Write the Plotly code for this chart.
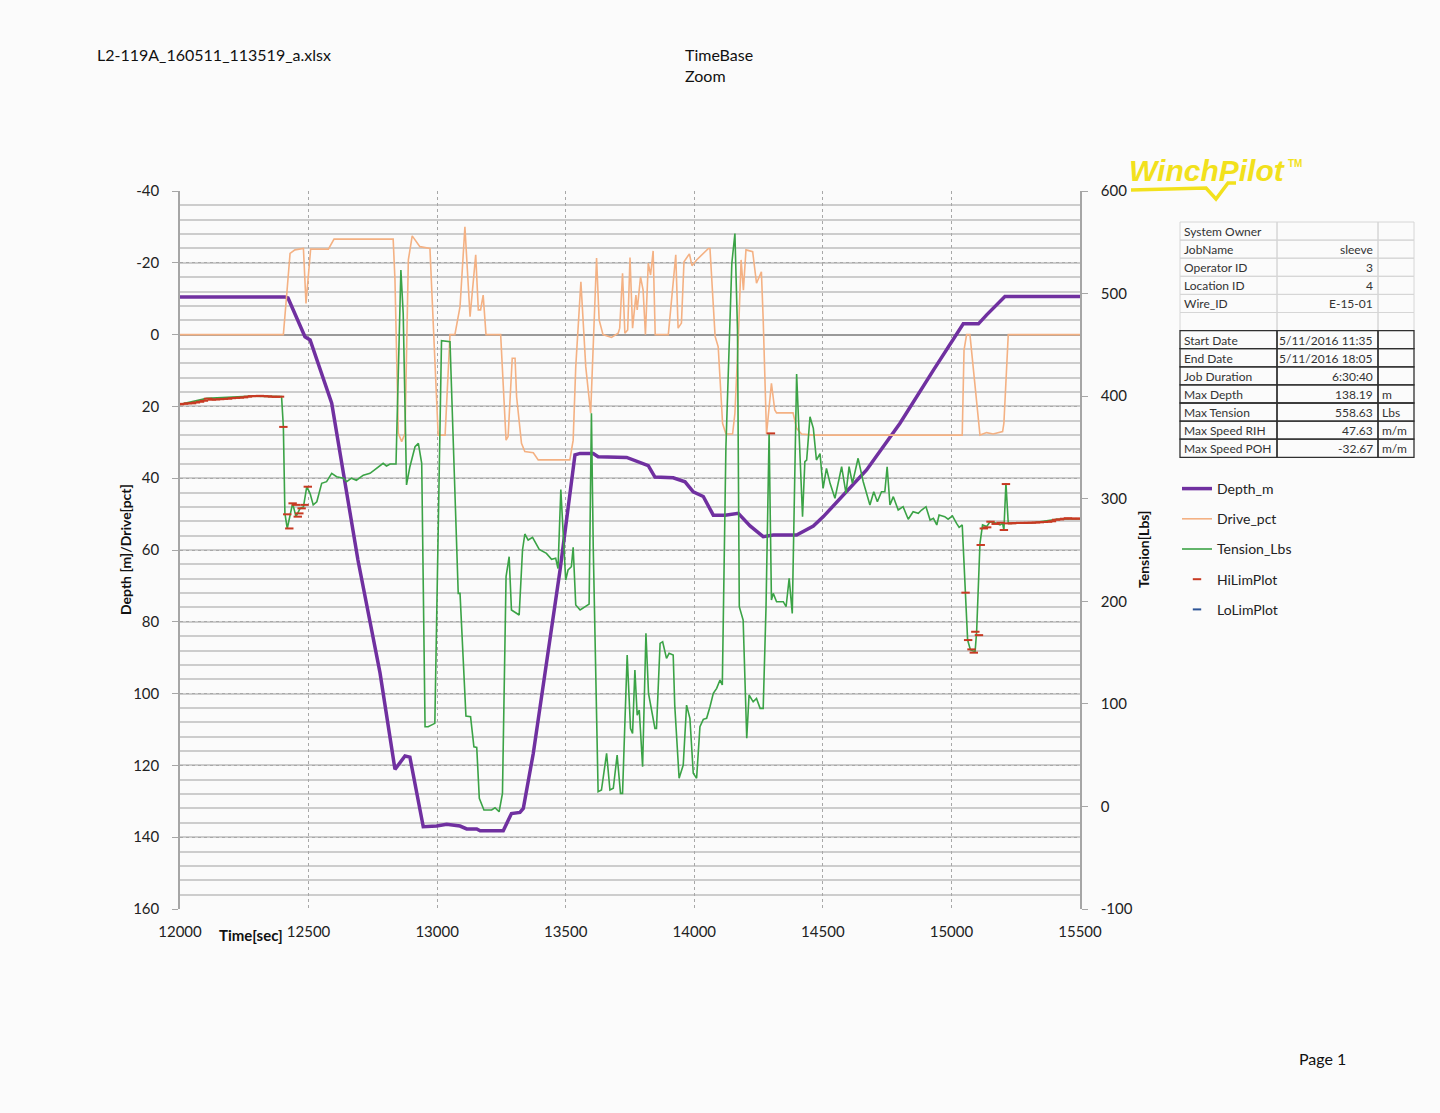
import plotly.graph_objects as go

# ---- data ---------------------------------------------------------------
depth_t = [12000, 12408, 12420, 12486, 12506, 12590, 12692, 12778, 12836, 12856,
           12875, 12894, 12946, 12998, 13037, 13089, 13115, 13154, 13167, 13257,
           13289, 13322, 13335, 13374, 13426, 13478, 13536, 13556, 13607, 13626,
           13737, 13776, 13821, 13847, 13918, 13964, 13996, 14035, 14074, 14120,
           14171, 14217, 14268, 14307, 14398, 14463, 14502, 14670, 14800, 14930,
           15046, 15105, 15137, 15208, 15500]
depth_m = [-10.5, -10.5, -10.2, 0.6, 1.5, 19.1, 62.8, 94.3, 121.1, 119,
           117.4, 117.7, 137.1, 136.9, 136.4, 136.9, 137.7, 137.7, 138.2, 138.2,
           133.4, 133.1, 132, 116.6, 91.6, 65.6, 33.5, 33.1, 33.1, 34,
           34.2, 35.2, 36.5, 39.7, 39.9, 41, 43.8, 45.1, 50.3, 50.3,
           49.8, 53.3, 56.3, 55.8, 55.8, 53.3, 50.7, 37.7, 24.7, 9.9,
           -3, -3, -5.5, -10.6, -10.6]

drive_t = [12000, 12402, 12416, 12428, 12447, 12480, 12490, 12508, 12577, 12599,
           12829, 12836, 12849, 12862, 12875, 12888, 12903, 12933, 12972, 12998,
           13004, 13031, 13050, 13069, 13089, 13108, 13128, 13150, 13160, 13169,
           13179, 13190, 13247, 13268, 13276, 13292, 13303, 13309, 13328, 13341,
           13374, 13393, 13516, 13529, 13539, 13559, 13578, 13597, 13607, 13620,
           13630, 13645, 13678, 13704, 13710, 13721, 13730, 13741, 13750, 13760,
           13773, 13778, 13791, 13801, 13810, 13821, 13830, 13840, 13848, 13899,
           13928, 13937, 13950, 13960, 13981, 13991, 14009, 14022, 14055, 14061,
           14081, 14093, 14110, 14123, 14149, 14158, 14171, 14182, 14191, 14201,
           14227, 14242, 14261, 14268, 14281, 14300, 14313, 14320, 14384, 14398,
           14417, 14462, 15042, 15049, 15059, 15072, 15111, 15137, 15162, 15199,
           15204, 15221, 15500]
drive_pct = [0, 0, -12, -22.6, -23.6, -24, -8.7, -23.8, -23.8, -26.6,
             -26.6, -15.2, 27.5, 29.8, 27.5, -20.8, -27.5, -24.5, -24, 21.9,
             28, 28, 0, 0, -7.8, -30, -5, -22.2, -6.9, -6.9,
             -11, 0, 0, 29.4, 28.4, 6.6, 6.6, 17.3, 30.3, 32.6,
             32.9, 34.9, 34.9, 29.4, 9, -14.7, 9, 21.9, 1.4, -21.3,
             -4.1, 0, 0.8, -0.4, -1.8, -17.1, -0.4, -1.3, -21.5, -1.8,
             -11, -6.9, -16.1, -12.4, 0, -19.9, -16.6, -23.3, 0, 0,
             -22.2, -1.8, -3.2, -20.3, -22.5, -19.2, -20.8, -21.7, -24, -24,
             0.5, 3.4, 24.7, 27.7, 27.7, 21.9, 1.5, -20.8, -12.4, -23.6,
             -23.1, -14.3, -17.5, -4.1, 27.7, 13.6, 21, 21.8, 21.8, 26.1,
             27.7, 28, 28, 4.3, 0, 0, 28, 27.3, 27.7, 27,
             24.7, 0, 0]

tension_t = [12000, 12104, 12285, 12395, 12402, 12408, 12417, 12428, 12438, 12451,
             12467, 12480, 12493, 12506, 12518, 12532, 12551, 12570, 12590, 12609,
             12635, 12648, 12667, 12686, 12713, 12739, 12765, 12790, 12803, 12817,
             12840, 12849, 12859, 12868, 12881, 12894, 12914, 12927, 12940, 12953,
             12965, 12991, 13017, 13050, 13082, 13089, 13112, 13130, 13143, 13154,
             13164, 13182, 13212, 13225, 13241, 13254, 13268, 13280, 13289, 13319,
             13332, 13341, 13354, 13371, 13397, 13425, 13445, 13461, 13470, 13481,
             13490, 13500, 13509, 13522, 13529, 13539, 13556, 13591, 13600, 13607,
             13626, 13639, 13659, 13672, 13685, 13700, 13713, 13721, 13739, 13752,
             13760, 13769, 13778, 13786, 13799, 13812, 13822, 13847, 13853, 13867,
             13877, 13892, 13902, 13918, 13924, 13941, 13957, 13970, 13983, 13996,
             14009, 14022, 14035, 14048, 14061, 14074, 14087, 14100, 14109, 14123,
             14146, 14158, 14168, 14175, 14190, 14204, 14213, 14229, 14242, 14256,
             14268, 14279, 14291, 14300, 14307, 14320, 14346, 14357, 14369, 14381,
             14398, 14411, 14421, 14430, 14437, 14450, 14463, 14475, 14489, 14501,
             14514, 14528, 14547, 14573, 14590, 14602, 14615, 14637, 14657, 14683,
             14698, 14712, 14728, 14741, 14750, 14761, 14774, 14793, 14812, 14832,
             14851, 14871, 14884, 14901, 14917, 14930, 14943, 14952, 14974, 14987,
             15004, 15020, 15030, 15042, 15055, 15063, 15074, 15092, 15098, 15111,
             15121, 15137, 15150, 15169, 15189, 15199, 15204, 15212, 15221, 15318,
             15409, 15500]
tension_lbs = [392, 397.8, 400, 399.5, 370, 285.7, 271, 285.7, 295.5, 282.5,
               290.6, 292, 311.7, 305, 294, 297, 315, 316.6, 324.8, 321.5,
               320, 316.6, 320, 318, 323, 324.8, 329.6, 334.5, 331.9, 333.8,
               333.8, 428.7, 523, 480.7, 313.4, 331.2, 350.7, 354, 334.5, 77.7,
               77.7, 81, 454, 453, 207.7, 207.7, 88.1, 87.5, 58.2, 57.6,
               7.9, -3.5, -3.5, -1.3, -5.2, 12.7, 224, 243.5, 191.5, 186.6,
               250, 265.6, 259.7, 262.3, 250.6, 246.7, 240.9, 241.9, 232, 309,
               272.7, 220.7, 230.5, 233.7, 252.6, 196.4, 191.5, 197.3, 383.3, 253.3,
               14.3, 16, 51.7, 16, 17.7, 50, 12.7, 12.7, 147.6, 76,
               71.2, 133, 89, 94, 38.7, 168.8, 110.3, 76, 76, 159,
               160.6, 144.4, 149.3, 147.6, 98.8, 27.4, 40.3, 98.8, 85.9, 32.3,
               27.4, 77.7, 84.9, 85.9, 97.2, 110.3, 115.1, 123.2, 118.4, 350.7,
               529.5, 558.6, 464.5, 194.7, 181.7, 66.4, 108.6, 102, 105.3, 95.6,
               95.6, 194.7, 363.7, 201.2, 207.7, 199.6, 199.6, 194.7, 222.4, 188.2,
               421.6, 339.4, 282.5, 336.1, 337.7, 379.9, 368.6, 337.7, 344, 310,
               329.6, 315, 300.4, 331.2, 305.3, 331.2, 315, 339.4, 316.6, 293.9,
               306.8, 297, 306.8, 306.8, 331.2, 293.9, 302, 289, 292.2, 280,
               287.3, 285.7, 289, 292.2, 279.2, 280.9, 274.4, 284.1, 282.5, 280,
               283.3, 276, 272.1, 274.4, 209.3, 162.2, 152.5, 150.8, 170.3, 256.5,
               274.4, 272.8, 277.6, 276.6, 274.4, 276, 269.5, 315, 276, 276.6,
               280, 280.5]

hilim_t = [12000, 12016, 12031, 12047, 12062, 12078, 12093, 12109, 12124, 12140,
           12156, 12171, 12187, 12202, 12218, 12233, 12249, 12264, 12280, 12296,
           12311, 12327, 12342, 12358, 12373, 12389,
           12402, 12417, 12425, 12438, 12451, 12458, 12464, 12473, 12484, 12497,
           14298,
           15055, 15065, 15078, 15087, 15093, 15107, 15114, 15126, 15139, 15152,
           15172, 15191, 15204, 15212,
           15220, 15236, 15251, 15267, 15282, 15298, 15313, 15329, 15344, 15360,
           15376, 15391, 15407, 15422, 15438, 15453, 15469, 15484, 15500]
hilim_lbs = [392, 392.5, 393, 393, 393.8, 394.5, 395.5, 397.5, 396.5, 396.8,
             397, 397.3, 397.5, 398, 398.3, 398.5, 398.8, 399.5, 400, 400,
             400.3, 400, 399.8, 399.5, 399.3, 399.5,
             370, 284.8, 271, 295.5, 294, 282.5, 285.7, 290.6, 294, 311.7,
             363.7,
             208.4, 162.2, 153.1, 149.9, 170.3, 167, 254.9, 271, 272.1, 277.6,
             275.4, 276.6, 269.5, 314.3,
             276, 276, 276.3, 276.5, 276.4, 276.6, 276.6, 276.8, 277, 277.3,
             277.5, 278, 279.5, 279.8, 280.5, 281, 280.5, 280.7, 280.5]

x_ticks = [12000, 12500, 13000, 13500, 14000, 14500, 15000, 15500]
y_ticks = [-40, -20, 0, 20, 40, 60, 80, 100, 120, 140, 160]
y2_ticks = [-100, 0, 100, 200, 300, 400, 500, 600]

info_labels = ["System Owner", "JobName", "Operator ID", "Location ID", "Wire_ID", "",
               "Start Date", "End Date", "Job Duration", "Max Depth", "Max Tension",
               "Max Speed RIH", "Max Speed POH"]
info_values = ["", "sleeve", "3", "4", "E-15-01", "",
               "5/11/2016 11:35", "5/11/2016 18:05", "6:30:40", "138.19", "558.63",
               "47.63", "-32.67"]
info_units = ["", "", "", "", "", "", "", "", "", "m", "Lbs", "m/m", "m/m"]

FONT = "Lato"
BG = "#fbfbfb"
OFF = 8                      # page margin of the html body
W, H = 1440 - 2 * OFF, 1113 - 2 * OFF
L, R, T, B = 180, 1080, 191, 909   # plot area in reference pixels


def px(x):
    return (x - L) / (R - L)


def py(y):
    return (B - y) / (B - T)


def hy(v):
    return str(v).replace("\u2212", "-")


fig = go.Figure()
fig.add_trace(go.Scatter(x=depth_t, y=depth_m, name="Depth_m", mode="lines",
                         line=dict(color="#7030A0", width=3.5), legendgroup="a"))
fig.add_trace(go.Scatter(x=drive_t, y=drive_pct, name="Drive_pct", mode="lines",
                         line=dict(color="#F4B183", width=1.6), legendgroup="b"))
fig.add_trace(go.Scatter(x=tension_t, y=tension_lbs, name="Tension_Lbs", mode="lines",
                         line=dict(color="#3BA346", width=1.6), yaxis="y2",
                         legendgroup="c"))
fig.add_trace(go.Scatter(x=hilim_t, y=hilim_lbs, name="HiLimPlot", mode="markers",
                         marker=dict(symbol="line-ew", size=6, color="#C83A23",
                                     line=dict(color="#C83A23", width=2)),
                         yaxis="y2", legendgroup="d"))
fig.add_trace(go.Scatter(x=[None], y=[None], name="LoLimPlot", mode="markers",
                         marker=dict(symbol="line-ew", size=6, color="#2E5597",
                                     line=dict(color="#2E5597", width=2)),
                         yaxis="y2", legendgroup="e"))

# ---- table at the right ---------------------------------------------------
shapes = []
annos = []
cols = [1180, 1277, 1378, 1414]
row_h = 18.1
top = 222
for i, (lab, val, unit) in enumerate(zip(info_labels, info_values, info_units)):
    y0 = top + i * row_h
    y1 = y0 + row_h
    dark = i >= 6
    lc = "#303030" if dark else "#d6d6d6"
    for c0, c1 in zip(cols[:-1], cols[1:]):
        shapes.append(dict(type="rect", xref="paper", yref="paper",
                           x0=px(c0), x1=px(c1), y0=py(y1), y1=py(y0),
                           line=dict(color=lc, width=1.3 if dark else 1)))
    yc = py(y0 + row_h / 2 + 0.5)
    annos.append(dict(x=px(1182), y=yc, text=lab, xanchor="left",
                      font=dict(size=12, color="#333")))
    annos.append(dict(x=px(1375), y=yc, text=val, xanchor="right",
                      font=dict(size=12, color="#333")))
    annos.append(dict(x=px(1380), y=yc, text=unit, xanchor="left",
                      font=dict(size=12, color="#333")))

# logo
LOGO = "#F2E11C"
annos.append(dict(x=px(1127), y=py(170), text="<b><i>WinchPilot</i></b>",
                  xanchor="left", font=dict(family="Liberation Sans", size=30,
                                            color=LOGO)))
annos.append(dict(x=px(1286), y=py(164), text="<b>TM</b>", xanchor="left",
                  font=dict(family="Liberation Sans", size=10, color=LOGO)))
shapes.append(dict(type="path", xref="paper", yref="paper",
                   path="M {} {} L {} {} L {} {} L {} {} L {} {}".format(
                       px(1131), py(190), px(1206), py(188), px(1216), py(199),
                       px(1228), py(183), px(1236), py(183)),
                   line=dict(color=LOGO, width=3.5)))

# page texts
annos += [
    dict(x=px(95), y=py(54), text="L2-119A_160511_113519_a.xlsx", xanchor="left",
         font=dict(size=16, color="#111")),
    dict(x=px(683), y=py(54), text="TimeBase", xanchor="left",
         font=dict(size=16, color="#111")),
    dict(x=px(683), y=py(76), text="Zoom", xanchor="left",
         font=dict(size=16, color="#111")),
    dict(x=px(1297), y=py(1058), text="Page 1", xanchor="left",
         font=dict(size=16, color="#111")),
    dict(x=px(125), y=py(550), text="<b>Depth [m]/Drive[pct]</b>", textangle=-90,
         xanchor="center", font=dict(size=14, color="#111")),
    dict(x=px(1143), y=py(550), text="<b>Tension[Lbs]</b>", textangle=-90,
         xanchor="center", font=dict(size=14, color="#111")),
    dict(x=px(217), y=py(935), text="<b>Time[sec]</b>", xanchor="left",
         font=dict(size=15, color="#111")),
]
for a in annos:
    a.setdefault("xref", "paper")
    a.setdefault("yref", "paper")
    a.setdefault("yanchor", "middle")
    a.setdefault("showarrow", False)

fig.update_layout(
    width=W, height=H,
    margin=dict(l=L - OFF, r=W - (R - OFF), t=T - OFF, b=H - (B - OFF)),
    paper_bgcolor=BG, plot_bgcolor=BG,
    font=dict(family=FONT, size=15, color="#222"),
    showlegend=True,
    legend=dict(x=px(1177), y=py(473), xanchor="left", yanchor="top",
                bgcolor="rgba(0,0,0,0)", font=dict(size=14, color="#222"),
                tracegroupgap=9, itemwidth=30),
    xaxis=dict(range=[12000, 15500], tickvals=x_ticks,
               ticktext=[str(v) for v in x_ticks], showgrid=True,
               griddash="dot", gridcolor="#a8a8a8", gridwidth=1,
               showline=False, zeroline=False, ticks="", ticklabelstandoff=12),
    yaxis=dict(range=[160, -40], tickvals=y_ticks,
               ticktext=[hy(v) for v in y_ticks], showgrid=True,
               griddash="dot", gridcolor="#a8a8a8", gridwidth=1,
               minor=dict(dtick=4, tick0=0, showgrid=True, gridcolor="#cdcdcd",
                          gridwidth=1.5, griddash="solid"),
               zeroline=True, zerolinecolor="#9a9a9a", zerolinewidth=1.5,
               showline=True, linecolor="#a6a6a6", linewidth=1.5,
               ticks="outside", ticklen=6, tickcolor="#a6a6a6", ticklabelstandoff=10),
    yaxis2=dict(range=[-100, 600], tickvals=y2_ticks,
                ticktext=[hy(v) for v in y2_ticks], overlaying="y", side="right",
                showgrid=False, zeroline=False, showline=True, linecolor="#a6a6a6",
                linewidth=1.5, ticks="outside", ticklen=6, tickcolor="#a6a6a6",
                ticklabelstandoff=10),
    shapes=shapes,
    annotations=annos,
)

fig.write_html("out.html",
               post_script="document.body.style.background='%s';" % BG)
